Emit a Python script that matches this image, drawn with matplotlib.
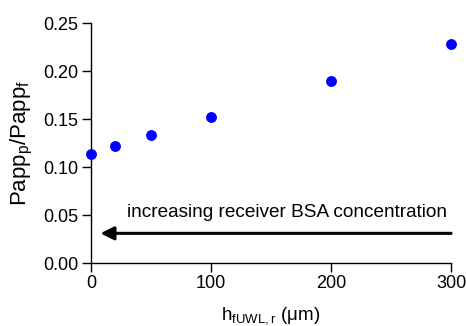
import numpy as np
import matplotlib.pyplot as plt
from matplotlib.ticker import FormatStrFormatter

plt.rcParams['font.family'] = ['Liberation Sans', 'DejaVu Sans']
plt.rcParams['mathtext.default'] = 'regular'

h_uwl = [0, 20, 50, 100, 200, 300]
papp_ratio = [0.114, 0.122, 0.133, 0.152, 0.190, 0.228]

fig = plt.figure(figsize=(4.66, 3.26), dpi=100)
ax = fig.add_axes([0.195, 0.193, 0.773, 0.736])

ax.plot(h_uwl, papp_ratio, 'o', color='#0000ff', ms=6.8, clip_on=False, zorder=3)

# arrow pointing toward small h
ax.annotate('', xy=(8, 0.031), xytext=(300, 0.031),
            arrowprops=dict(arrowstyle='-|>', color='black', lw=2.2,
                            mutation_scale=20, shrinkA=0, shrinkB=0))
ax.text(297, 0.048, 'increasing receiver BSA concentration', ha='right', va='baseline', fontsize=13.7)

ax.set_xlim(0, 300)
ax.set_ylim(0, 0.25)
ax.set_xticks([0, 100, 200, 300])
ax.set_yticks(np.arange(0, 0.26, 0.05))
ax.yaxis.set_major_formatter(FormatStrFormatter('%.2f'))

for s in ['top', 'right']:
    ax.spines[s].set_visible(False)
ax.spines['left'].set_linewidth(1)
ax.spines['bottom'].set_linewidth(1)
ax.tick_params(direction='out', length=6.3, width=1, pad=2.5, labelsize=13)

ax.set_xlabel(r'h$_{fUWL,r}$ (μm)', fontsize=13.5, labelpad=9)
ax.set_ylabel(r'Papp$_p$/Papp$_f$', fontsize=16, labelpad=6)

fig.savefig('out.png', dpi=100)
